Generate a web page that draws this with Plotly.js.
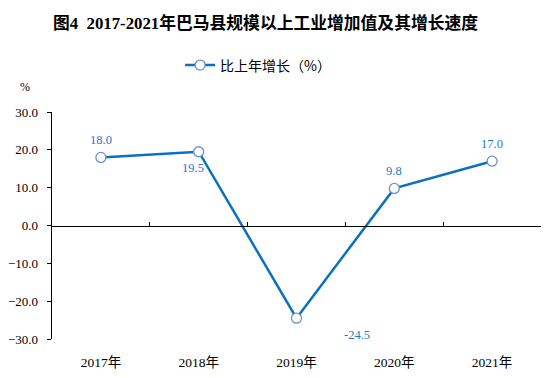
<!DOCTYPE html>
<html><head><meta charset="utf-8">
<script src="https://cdn.plot.ly/plotly-3.0.1.min.js"></script>
<style>html,body{margin:0;padding:0;background:#fff}#chart{width:552px;height:378px}</style>
</head><body><div id="chart"></div>
<script>
const categories = ["2017年","2018年","2019年","2020年","2021年"];
const growth = [18.0, 19.5, -24.5, 9.8, 17.0];
const growthLabels = ["18.0","19.5","-24.5","9.8","17.0"];
const yTicks = [-30,-20,-10,0,10,20,30];

const labelOffsets = [[0,-17],[-6,16],[60,17],[0,-17],[0,-17]];
const serif = "'Liberation Serif', 'Times New Roman', 'Noto Sans CJK SC', serif";

const traces = [
  {
    x: categories, y: growth, type: 'scatter', mode: 'lines+markers',
    name: '比上年增长（%）',
    line: {color: '#0a70c0', width: 2.5},
    marker: {symbol: 'circle', size: 10, color: '#ffffff', line: {color: '#6e90c8', width: 1.3}},
    hoverinfo: 'skip'
  },
  {
    x: categories, y: growth, xaxis: 'x2', type: 'scatter', mode: 'markers',
    marker: {opacity: 0}, showlegend: false, hoverinfo: 'skip'
  }
];

const annotations = growth.map((v, i) => ({
  x: categories[i], y: v, xref: 'x', yref: 'y', text: growthLabels[i],
  showarrow: true, arrowcolor: 'rgba(0,0,0,0)', ax: labelOffsets[i][0], ay: labelOffsets[i][1],
  font: {family: serif, size: 12.5, color: '#1f78c8'}
}));
annotations.push({
  xref: 'paper', yref: 'paper', x: -0.055, y: 1.11, text: '%', showarrow: false,
  xanchor: 'center', yanchor: 'middle', font: {family: serif, size: 12, color: '#000'}
});

const layout = {
  width: 552, height: 378,
  margin: {l: 52, r: 11, t: 112, b: 39},
  paper_bgcolor: '#fff', plot_bgcolor: '#fff',
  title: {text: '<b>图4  2017-2021年巴马县规模以上工业增加值及其增长速度</b>',
    x: 0.481, xanchor: 'center', y: 0.94, yanchor: 'middle',
    font: {family: "'Liberation Serif', 'Noto Sans CJK SC', serif", size: 16.8, color: '#000'}},
  showlegend: true,
  legend: {orientation: 'h', x: 0.262, xanchor: 'left', y: 1.205, yanchor: 'middle',
    font: {family: "'Noto Sans CJK SC', sans-serif", size: 14, color: '#000'}},
  xaxis: {type: 'category', categoryorder: 'array', categoryarray: categories,
    range: [-0.5, 4.5], showline: false, showgrid: false, zeroline: false,
    ticks: 'outside', ticklen: 11, tickcolor: 'rgba(0,0,0,0)',
    tickfont: {family: serif, size: 13.5, color: '#000'}, fixedrange: true},
  xaxis2: {type: 'category', categoryorder: 'array', categoryarray: categories,
    range: [-0.5, 4.5], overlaying: 'x', anchor: 'free', position: 0.5,
    showline: true, linecolor: '#000', linewidth: 1.3, showgrid: false, zeroline: false,
    ticks: 'inside', tickson: 'boundaries', ticklen: 4, tickcolor: '#000', tickwidth: 1,
    showticklabels: false, fixedrange: true},
  yaxis: {range: [-30, 30], tickvals: yTicks, tickformat: '.1f',
    showline: true, linecolor: '#000', linewidth: 1.3, showgrid: false, zeroline: false,
    ticks: 'outside', ticklen: 4, tickcolor: '#000', tickwidth: 1, ticklabelstandoff: 6,
    tickfont: {family: serif, size: 13, color: '#000'}, fixedrange: true},
  annotations: annotations
};

Plotly.newPlot('chart', traces, layout, {displayModeBar: false, staticPlot: true});
</script></body></html>
